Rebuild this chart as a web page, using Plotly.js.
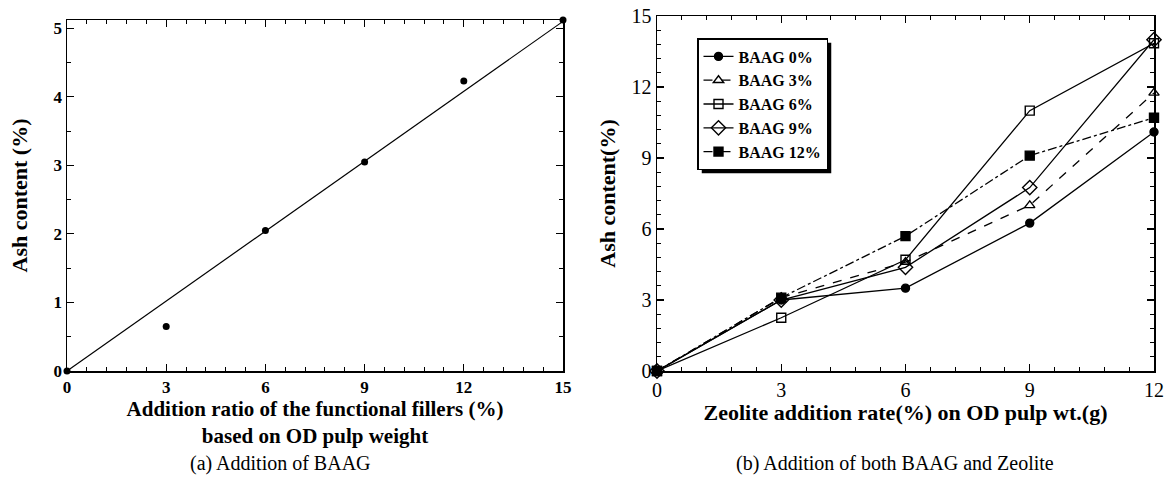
<!DOCTYPE html>
<html>
<head>
<meta charset="utf-8">
<script src="https://cdn.plot.ly/plotly-3.0.1.min.js"></script>
<style>html,body{margin:0;padding:0;background:#fff;}#chart{width:1169px;height:481px;}</style>
</head>
<body>
<div id="chart"></div>
<script>
// Panel (a): BAAG addition
const baagX = [0, 3, 6, 9, 12, 15];
const baagAsh = [0, 0.65, 2.05, 3.05, 4.23, 5.12];
const fitX = [0, 15];
const fitY = [0, 5.1];

// Panel (b): BAAG + Zeolite
const zeoX = [0, 3, 6, 9, 12];
const seriesNames = ["BAAG 0%", "BAAG 3%", "BAAG 6%", "BAAG 9%", "BAAG 12%"];
const baag0 = [0, 3.0, 3.5, 6.25, 10.1];
const baag3 = [0, 3.1, 4.6, 7.0, 11.75];
const baag6 = [0, 2.25, 4.7, 11.0, 13.85];
const baag9 = [0, 3.0, 4.38, 7.75, 14.0];
const baag12 = [0, 3.1, 5.7, 9.1, 10.7];

const leftTicks = [0, 3, 6, 9, 12, 15];
const leftYTicks = [0, 1, 2, 3, 4, 5];
const rightTicks = [0, 3, 6, 9, 12];
const rightYTicks = [0, 3, 6, 9, 12, 15];

const serif = "Liberation Serif, Times New Roman, serif";
const W = 1169, H = 481;

const styles = [
  {symbol: "circle", dash: "solid", size: 8},
  {symbol: "triangle-up-open", dash: "dash", size: 9},
  {symbol: "square-open", dash: "solid", size: 9},
  {symbol: "diamond-open", dash: "solid", size: 11},
  {symbol: "square", dash: "dashdot", size: 9}
];
const seriesY = [baag0, baag3, baag6, baag9, baag12];

const traces = [
  {x: fitX, y: fitY, xaxis: "x", yaxis: "y", mode: "lines", line: {color: "#000", width: 1.2}, showlegend: false, hoverinfo: "skip"},
  {x: baagX, y: baagAsh, xaxis: "x", yaxis: "y", mode: "markers", marker: {color: "#000", size: 7, symbol: "circle"}, showlegend: false, cliponaxis: false}
];
seriesY.forEach((ys, i) => {
  traces.push({
    x: zeoX, y: ys, xaxis: "x2", yaxis: "y2",
    name: seriesNames[i],
    mode: "lines+markers", cliponaxis: false,
    line: {color: "#000", width: 1.3, dash: styles[i].dash},
    marker: {color: "#000", size: styles[i].size, symbol: styles[i].symbol, line: {color: "#000", width: 1.4}}
  });
});

const axisCommon = {
  showline: true, linecolor: "#000", linewidth: 1.5, mirror: "allticks",
  ticks: "inside", ticklen: 7, tickwidth: 1.2, tickcolor: "#000",
  showgrid: false, zeroline: false, fixedrange: true
};
const minorCommon = {ticks: "inside", ticklen: 4, tickcolor: "#000", tickwidth: 1};

const layout = {
  width: W, height: H,
  margin: {l: 0, r: 0, t: 0, b: 0},
  paper_bgcolor: "#fff", plot_bgcolor: "rgba(0,0,0,0)",
  font: {family: serif, color: "#000"},
  showlegend: true,
  xaxis: Object.assign({}, axisCommon, {
    domain: [67 / W, 563 / W], range: [0, 15], tickmode: "array", tickvals: leftTicks,
    ticktext: leftTicks.map(String),
    tickfont: {family: serif, size: 17, weight: "bold"},
    minor: Object.assign({dtick: 0.6}, minorCommon),
    title: {text: "Addition ratio of the functional fillers (%)<br>based on OD pulp weight", font: {family: serif, size: 21, weight: "bold"}, standoff: 4}
  }),
  yaxis: Object.assign({}, axisCommon, {
    domain: [1 - 371 / H, 1 - 20 / H], range: [0, 5.12], tickmode: "array", tickvals: leftYTicks,
    ticktext: leftYTicks.map(String),
    tickfont: {family: serif, size: 17, weight: "bold"},
    minor: Object.assign({dtick: 0.5}, minorCommon),
    title: {text: "Ash content (%)", font: {family: serif, size: 22, weight: "bold"}, standoff: 20}
  }),
  xaxis2: Object.assign({}, axisCommon, {
    anchor: "y2",
    domain: [657 / W, 1154 / W], range: [0, 12], tickmode: "array", tickvals: rightTicks,
    ticktext: rightTicks.map(String),
    tickfont: {family: serif, size: 20},
    minor: Object.assign({dtick: 0.6}, minorCommon),
    title: {text: "Zeolite addition rate(%) on OD pulp wt.(g)", font: {family: serif, size: 22, weight: "bold"}, standoff: 4}
  }),
  yaxis2: Object.assign({}, axisCommon, {
    anchor: "x2",
    domain: [1 - 371 / H, 1 - 16 / H], range: [0, 15], tickmode: "array", tickvals: rightYTicks,
    ticktext: rightYTicks.map(String),
    tickfont: {family: serif, size: 20},
    minor: Object.assign({dtick: 0.6}, minorCommon),
    title: {text: "Ash content(%)", font: {family: serif, size: 22, weight: "bold"}, standoff: 10}
  }),
  legend: {
    x: 697 / W, y: 1 - 38 / H, xanchor: "left", yanchor: "top",
    bgcolor: "#fff", bordercolor: "#000", borderwidth: 1.5,
    font: {family: serif, size: 16, weight: "bold", color: "#000"},
    tracegroupgap: 0, itemwidth: 30
  },
  annotations: [
    {text: "(a) Addition of BAAG", xref: "paper", yref: "paper", x: 280 / W, y: 1 - 463 / H, showarrow: false, xanchor: "center", yanchor: "middle", font: {family: serif, size: 20}},
    {text: "(b) Addition of both BAAG and Zeolite", xref: "paper", yref: "paper", x: 895 / W, y: 1 - 463 / H, showarrow: false, xanchor: "center", yanchor: "middle", font: {family: serif, size: 20}}
  ]
};

const gd = document.getElementById("chart");
Plotly.newPlot(gd, traces, layout, {displayModeBar: false, staticPlot: true}).then(() => {
  const bg = gd.querySelector(".legend .bg");
  if (!bg) return;
  const r = bg.getBoundingClientRect();
  const c = gd.getBoundingClientRect();
  const off = 4;
  const x0 = r.left - c.left + off, x1 = r.right - c.left + off;
  const y0 = r.top - c.top + off, y1 = r.bottom - c.top + off;
  return Plotly.relayout(gd, {shapes: [{
    type: "rect", xref: "paper", yref: "paper", layer: "below",
    x0: x0 / W, x1: x1 / W, y0: 1 - y1 / H, y1: 1 - y0 / H,
    fillcolor: "#000", line: {width: 0}
  }]});
});
</script>
</body>
</html>
